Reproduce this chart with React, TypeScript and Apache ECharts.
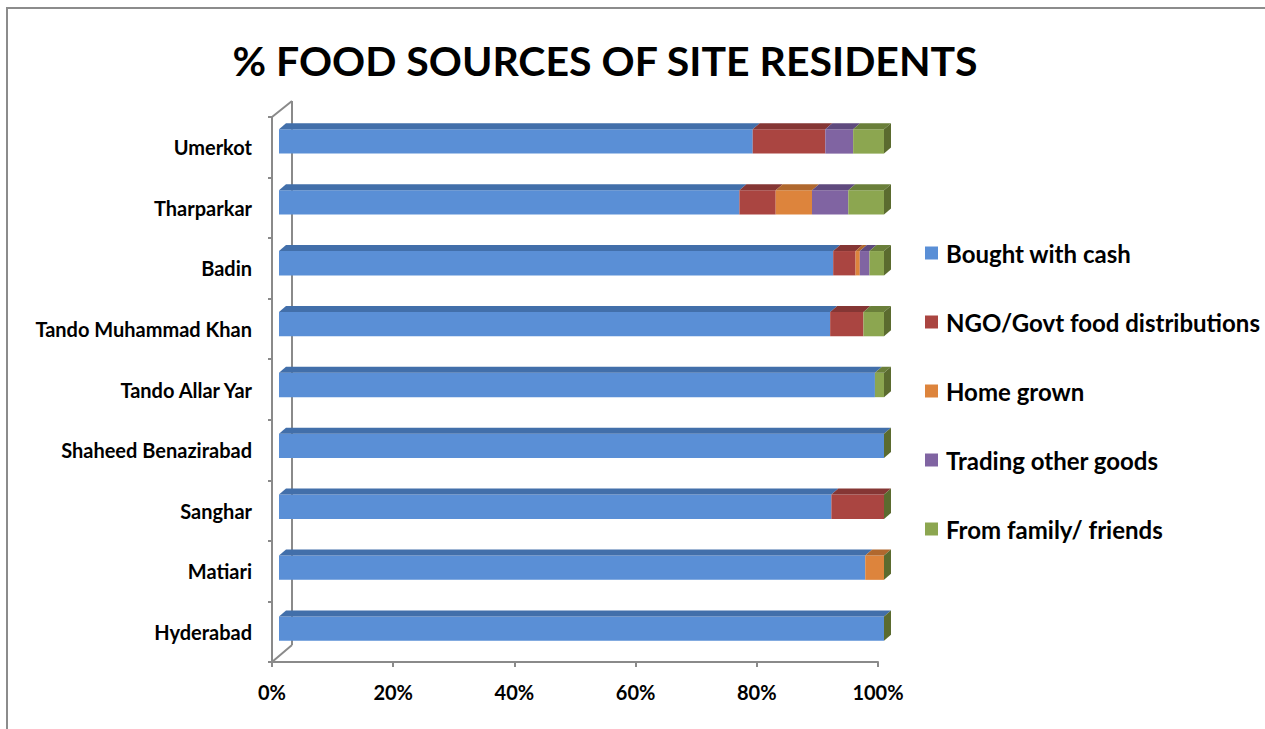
import React, { useEffect, useRef } from "react";
import * as echarts from "echarts";

const categories = [
  "Umerkot",
  "Tharparkar",
  "Badin",
  "Tando Muhammad Khan",
  "Tando Allar Yar",
  "Shaheed Benazirabad",
  "Sanghar",
  "Matiari",
  "Hyderabad",
];
const seriesNames = [
  "Bought with cash",
  "NGO/Govt food distributions",
  "Home grown",
  "Trading other goods",
  "From family/ friends",
];
const boughtWithCash = [78.3, 76.1, 91.6, 91.1, 98.5, 100, 91.3, 96.9, 100];
const ngoGovt = [12.0, 6.0, 3.7, 5.5, 0, 0, 8.7, 0, 0];
const homeGrown = [0, 6.0, 0.7, 0, 0, 0, 0, 3.1, 0];
const tradingGoods = [4.6, 6.0, 1.6, 0, 0, 0, 0, 0, 0];
const familyFriends = [5.1, 5.9, 2.4, 3.4, 1.5, 0, 0, 0, 0];
const xTicks = [0, 20, 40, 60, 80, 100];

const FRONT = ["#5A8FD6", "#AA4541", "#DD843C", "#8064A2", "#8CA650"];
const TOP = ["#426FAA", "#853634", "#B0682E", "#5F4A7E", "#6A7F3A"];
const SIDE = "#5B6B2F";
const DX = 7;
const DY = -6;
const FONT = "Lato, 'Open Sans', sans-serif";
const FRAME = "#8a8a8a";

export default function App() {
  const ref = useRef<HTMLDivElement>(null);
  useEffect(() => {
    document.body.style.margin = "0";
    const chart = echarts.init(ref.current!, null, { renderer: "svg" });
    const all = [boughtWithCash, ngoGovt, homeGrown, tradingGoods, familyFriends];
    const cum = categories.map(() => 0);
    const series: any[] = all.map((vals, sIdx) => {
      const data = vals.map((v, i) => {
        const s = cum[i];
        cum[i] += v;
        return [s, s + v, i];
      });
      return {
        type: "custom",
        name: seriesNames[sIdx],
        xAxisIndex: 0,
        yAxisIndex: 0,
        itemStyle: { color: FRONT[sIdx] },
        encode: { x: [0, 1], y: 2 },
        data,
        renderItem: (params: any, api: any) => {
          const start = api.value(0);
          const end = api.value(1);
          const cat = api.value(2);
          const p0 = api.coord([start, cat]);
          const p1 = api.coord([end, cat]);
          const h = api.size([0, 1])[1] * 0.4;
          const yTop = p0[1] - h / 2;
          const children: any[] = [];
          if (end > start) {
            children.push({
              type: "rect",
              shape: { x: p0[0], y: yTop, width: p1[0] - p0[0], height: h },
              style: { fill: FRONT[sIdx] },
            });
            children.push({
              type: "polygon",
              shape: {
                points: [
                  [p0[0], yTop],
                  [p1[0], yTop],
                  [p1[0] + DX, yTop + DY],
                  [p0[0] + DX, yTop + DY],
                ],
              },
              style: { fill: TOP[sIdx] },
            });
          }
          if (sIdx === all.length - 1) {
            children.push({
              type: "polygon",
              shape: {
                points: [
                  [p1[0], yTop],
                  [p1[0] + DX, yTop + DY],
                  [p1[0] + DX, yTop + h + DY],
                  [p1[0], yTop + h],
                ],
              },
              style: { fill: SIDE },
            });
          }
          return { type: "group", children };
        },
      };
    });

    chart.setOption({
      animation: false,
      backgroundColor: "#ffffff",
      textStyle: { fontFamily: FONT },
      legend: {
        orient: "vertical",
        left: 925,
        top: 241,
        padding: 0,
        itemWidth: 13,
        itemHeight: 13,
        itemGap: 45,
        icon: "rect",
        data: seriesNames,
        textStyle: { fontFamily: FONT, fontSize: 24, fontWeight: "bold", color: "#000", padding: [0, 0, 0, 3] },
      },
      grid: [
        { left: 279, top: 111, width: 605, height: 548 },
        { left: 272, top: 117, width: 606, height: 545 },
      ],
      xAxis: [
        { type: "value", gridIndex: 0, min: 0, max: 100, show: false },
        {
          type: "value",
          gridIndex: 1,
          min: 0,
          max: 100,
          interval: 20,
          axisLine: { show: true, lineStyle: { color: FRAME, width: 2 } },
          axisTick: { show: true, length: 5, lineStyle: { color: FRAME, width: 2 } },
          splitLine: { show: false },
          axisLabel: {
            formatter: (v: number) => (xTicks.includes(v) ? v + "%" : ""),
            margin: 20,
            color: "#000",
            fontFamily: FONT,
            fontSize: 20,
            fontWeight: "bold",
          },
        },
      ],
      yAxis: [
        { type: "category", gridIndex: 0, data: categories, inverse: true, show: false },
        {
          type: "category",
          gridIndex: 1,
          data: categories,
          inverse: true,
          axisLine: { show: true, lineStyle: { color: FRAME, width: 2 } },
          axisTick: { show: true, length: 4, lineStyle: { color: FRAME, width: 2 } },
          axisLabel: {
            margin: 20,
            color: "#000",
            fontFamily: FONT,
            fontSize: 20,
            fontWeight: "bold",
          },
        },
      ],
      graphic: [
        {
          type: "rect",
          shape: { x: 7, y: 8, width: 1400, height: 900 },
          style: { fill: "none", stroke: "#8c8c8c", lineWidth: 2 },
          silent: true,
        },
        { type: "line", shape: { x1: 272, y1: 117, x2: 292, y2: 101 }, style: { stroke: FRAME, lineWidth: 2 } },
        { type: "line", shape: { x1: 292, y1: 101, x2: 292, y2: 645 }, style: { stroke: FRAME, lineWidth: 2 } },
        { type: "line", shape: { x1: 272, y1: 662, x2: 292, y2: 645 }, style: { stroke: FRAME, lineWidth: 2 } },
        {
          type: "text",
          x: 605,
          y: 60,
          style: {
            text: "% FOOD SOURCES OF SITE RESIDENTS",
            fill: "#000",
            font: `bold 41px ${FONT}`,
            textAlign: "center",
            textVerticalAlign: "middle",
          },
        },
      ],
      series,
    });
    return () => chart.dispose();
  }, []);
  return <div ref={ref} style={{ width: 1265, height: 729 }} />;
}
